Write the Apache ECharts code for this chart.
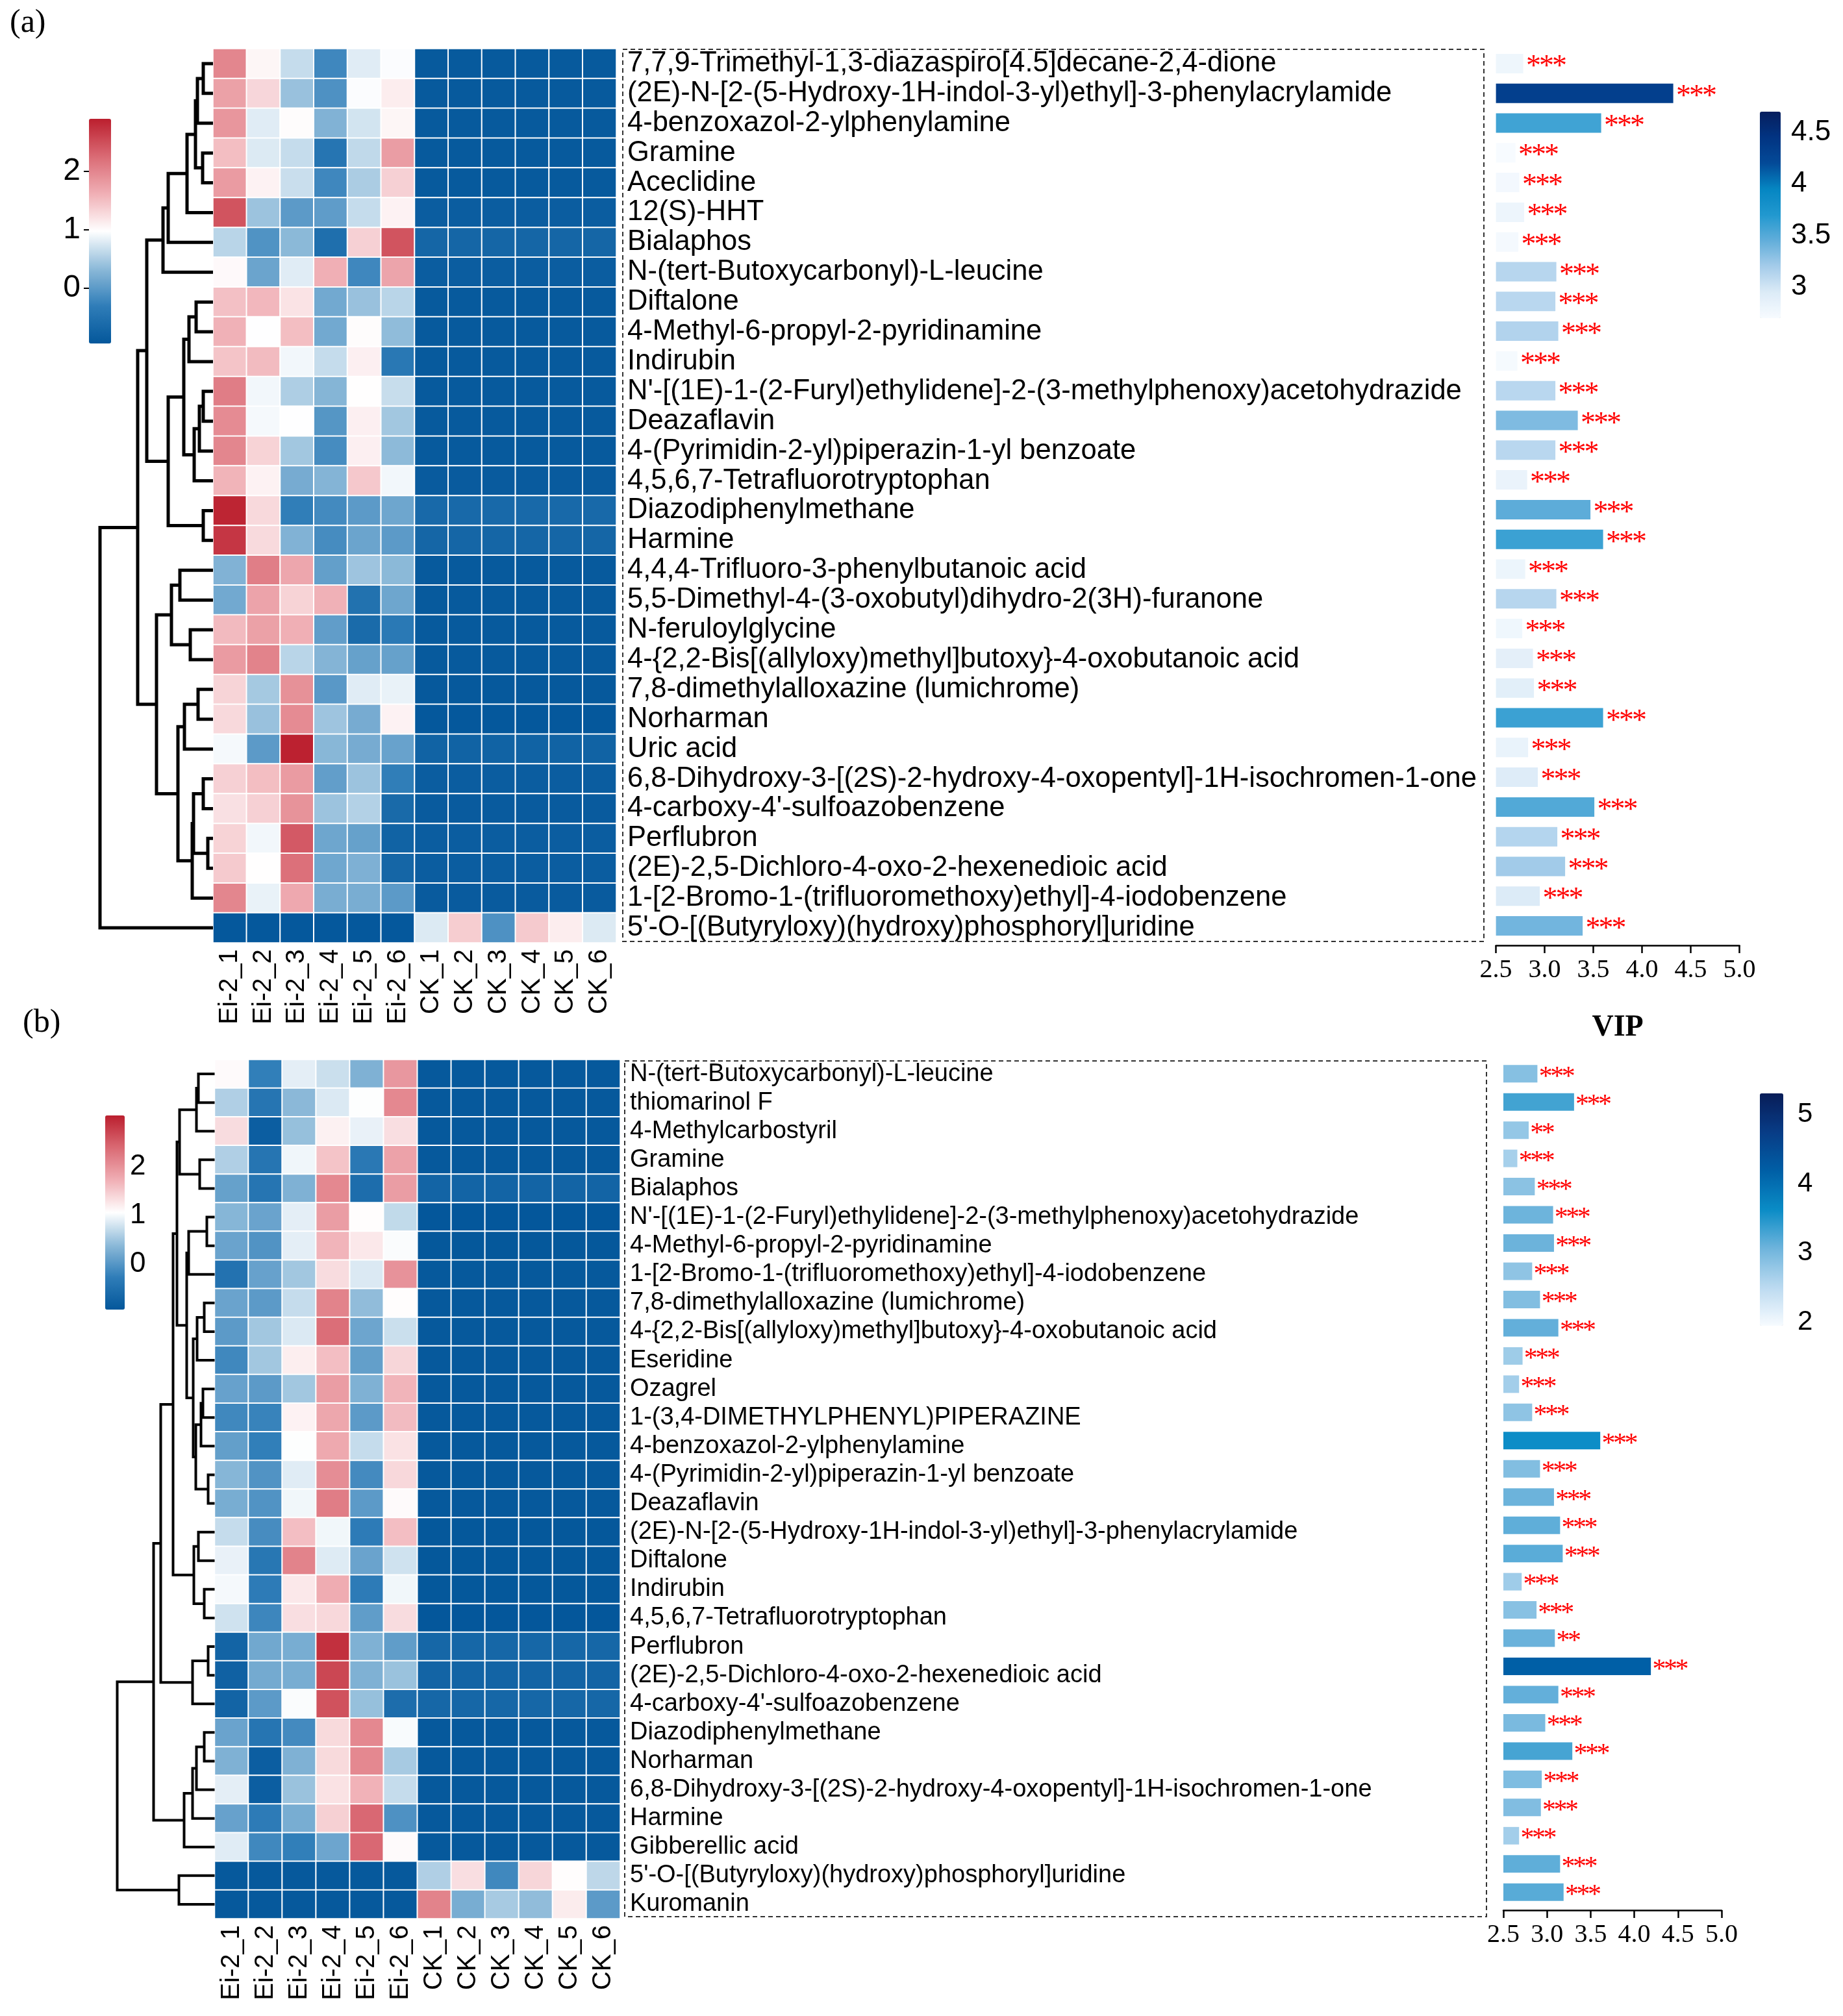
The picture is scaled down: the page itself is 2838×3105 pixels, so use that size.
<!DOCTYPE html>
<html><head><meta charset="utf-8">
<script src="https://cdn.jsdelivr.net/npm/echarts@6/dist/echarts.min.js"></script>
<style>html,body{margin:0;padding:0;background:#fff}#c{width:2838px;height:3105px}</style>
</head><body><div id="c"></div>
<script>
// ---------------- DATA ----------------
const samples = ['Ei-2_1','Ei-2_2','Ei-2_3','Ei-2_4','Ei-2_5','Ei-2_6','CK_1','CK_2','CK_3','CK_4','CK_5','CK_6'];

const metabolitesA = [
 '7,7,9-Trimethyl-1,3-diazaspiro[4.5]decane-2,4-dione',
 '(2E)-N-[2-(5-Hydroxy-1H-indol-3-yl)ethyl]-3-phenylacrylamide',
 '4-benzoxazol-2-ylphenylamine',
 'Gramine',
 'Aceclidine',
 '12(S)-HHT',
 'Bialaphos',
 'N-(tert-Butoxycarbonyl)-L-leucine',
 'Diftalone',
 '4-Methyl-6-propyl-2-pyridinamine',
 'Indirubin',
 "N'-[(1E)-1-(2-Furyl)ethylidene]-2-(3-methylphenoxy)acetohydrazide",
 'Deazaflavin',
 '4-(Pyrimidin-2-yl)piperazin-1-yl benzoate',
 '4,5,6,7-Tetrafluorotryptophan',
 'Diazodiphenylmethane',
 'Harmine',
 '4,4,4-Trifluoro-3-phenylbutanoic acid',
 '5,5-Dimethyl-4-(3-oxobutyl)dihydro-2(3H)-furanone',
 'N-feruloylglycine',
 '4-{2,2-Bis[(allyloxy)methyl]butoxy}-4-oxobutanoic acid',
 '7,8-dimethylalloxazine (lumichrome)',
 'Norharman',
 'Uric acid',
 '6,8-Dihydroxy-3-[(2S)-2-hydroxy-4-oxopentyl]-1H-isochromen-1-one',
 "4-carboxy-4'-sulfoazobenzene",
 'Perflubron',
 '(2E)-2,5-Dichloro-4-oxo-2-hexenedioic acid',
 '1-[2-Bromo-1-(trifluoromethoxy)ethyl]-4-iodobenzene',
 "5'-O-[(Butyryloxy)(hydroxy)phosphoryl]uridine"
];

const heatA = [
 [2.0,1.05,0.65,-0.2,0.8,0.95,-0.9,-0.9,-0.9,-0.9,-0.9,-0.9],
 [1.75,1.3,0.4,-0.1,0.95,1.12,-0.9,-0.9,-0.9,-0.9,-0.9,-0.9],
 [1.85,0.8,1.0,0.25,0.72,1.05,-0.9,-0.9,-0.9,-0.9,-0.9,-0.9],
 [1.5,0.78,0.65,-0.45,0.62,1.78,-0.9,-0.9,-0.9,-0.9,-0.9,-0.9],
 [1.8,1.08,0.67,-0.2,0.5,1.35,-0.9,-0.9,-0.9,-0.9,-0.9,-0.9],
 [2.45,0.42,0.0,0.02,0.65,1.08,-0.85,-0.85,-0.85,-0.85,-0.85,-0.85],
 [0.58,-0.08,0.32,-0.55,1.35,2.45,-0.7,-0.7,-0.7,-0.7,-0.7,-0.7],
 [1.02,0.1,0.8,1.62,-0.2,1.72,-0.85,-0.85,-0.85,-0.85,-0.85,-0.85],
 [1.48,1.55,1.2,0.15,0.4,0.58,-0.9,-0.9,-0.9,-0.9,-0.9,-0.9],
 [1.6,0.97,1.5,0.15,1.0,0.35,-0.9,-0.9,-0.9,-0.9,-0.9,-0.9],
 [1.45,1.52,0.9,0.65,1.1,-0.4,-0.9,-0.9,-0.9,-0.9,-0.9,-0.9],
 [2.08,0.9,0.52,0.28,0.98,0.66,-0.9,-0.9,-0.9,-0.9,-0.9,-0.9],
 [1.95,0.92,0.97,-0.05,1.1,0.45,-0.9,-0.9,-0.9,-0.9,-0.9,-0.9],
 [2.0,1.33,0.45,-0.15,1.1,0.33,-0.9,-0.9,-0.9,-0.9,-0.9,-0.9],
 [1.58,1.08,0.18,0.27,1.42,0.9,-0.88,-0.88,-0.88,-0.88,-0.88,-0.88],
 [2.85,1.28,-0.3,-0.17,0.0,0.12,-0.65,-0.65,-0.65,-0.65,-0.65,-0.65],
 [2.7,1.27,0.25,-0.15,0.1,0.0,-0.7,-0.7,-0.7,-0.7,-0.7,-0.7],
 [0.25,2.07,1.7,0.05,0.43,0.32,-0.9,-0.9,-0.9,-0.9,-0.9,-0.9],
 [0.15,1.73,1.33,1.6,-0.5,0.12,-0.9,-0.9,-0.9,-0.9,-0.9,-0.9],
 [1.53,1.75,1.62,0.03,-0.62,-0.38,-0.9,-0.9,-0.9,-0.9,-0.9,-0.9],
 [1.8,2.03,0.58,0.27,0.07,0.07,-0.9,-0.9,-0.9,-0.9,-0.9,-0.9],
 [1.32,0.47,1.9,-0.02,0.8,0.85,-0.92,-0.92,-0.92,-0.92,-0.92,-0.92],
 [1.28,0.4,1.95,0.43,0.18,1.08,-0.93,-0.93,-0.93,-0.93,-0.93,-0.93],
 [0.92,0.0,2.88,0.3,0.18,0.08,-0.75,-0.75,-0.75,-0.75,-0.75,-0.75],
 [1.35,1.5,1.8,0.04,0.42,-0.3,-0.85,-0.85,-0.85,-0.85,-0.85,-0.85],
 [1.22,1.35,1.88,0.42,0.55,-0.63,-0.88,-0.88,-0.88,-0.88,-0.88,-0.88],
 [1.33,0.9,2.4,0.12,0.07,-0.75,-0.85,-0.85,-0.85,-0.85,-0.85,-0.85],
 [1.4,0.98,2.2,0.13,0.23,-0.7,-0.85,-0.85,-0.85,-0.85,-0.85,-0.85],
 [2.0,0.85,1.68,0.2,0.2,0.0,-0.88,-0.88,-0.88,-0.88,-0.88,-0.88],
 [-0.93,-0.93,-0.93,-0.93,-0.93,-0.93,0.78,1.38,-0.1,1.4,1.12,0.78]
];

const vipA = [2.78,4.32,3.58,2.70,2.74,2.79,2.73,3.12,3.11,3.14,2.72,3.11,3.34,3.11,2.82,3.47,3.60,2.80,3.12,2.77,2.88,2.89,3.60,2.83,2.93,3.51,3.13,3.21,2.95,3.39];
const starsA = ['***','***','***','***','***','***','***','***','***','***','***','***','***','***','***','***','***','***','***','***','***','***','***','***','***','***','***','***','***','***'];

// hclust-style merges: negative = leaf row (1-based), positive = earlier merge (1-based); [a, b, height]
const dendroA = [
 [-1,-2,15],[1,-3,24],[-4,-5,16],[2,3,27],[4,-6,40],[5,-7,69],[6,-8,77],
 [-9,-10,26],[8,-11,37],[-12,-13,15],[10,-14,21],[11,-15,29],[9,12,45],
 [-16,-17,15],[13,14,69],[7,15,102],
 [-18,-19,51],[-20,-21,35],[17,18,64],[-22,-23,23],[20,-24,44],
 [-25,-26,15],[-27,-28,8],[22,23,30],[24,-29,32],[21,25,54],[19,26,87],
 [16,27,116],[28,-30,174]
];

const metabolitesB = [
 'N-(tert-Butoxycarbonyl)-L-leucine',
 'thiomarinol F',
 '4-Methylcarbostyril',
 'Gramine',
 'Bialaphos',
 "N'-[(1E)-1-(2-Furyl)ethylidene]-2-(3-methylphenoxy)acetohydrazide",
 '4-Methyl-6-propyl-2-pyridinamine',
 '1-[2-Bromo-1-(trifluoromethoxy)ethyl]-4-iodobenzene',
 '7,8-dimethylalloxazine (lumichrome)',
 '4-{2,2-Bis[(allyloxy)methyl]butoxy}-4-oxobutanoic acid',
 'Eseridine',
 'Ozagrel',
 '1-(3,4-DIMETHYLPHENYL)PIPERAZINE',
 '4-benzoxazol-2-ylphenylamine',
 '4-(Pyrimidin-2-yl)piperazin-1-yl benzoate',
 'Deazaflavin',
 '(2E)-N-[2-(5-Hydroxy-1H-indol-3-yl)ethyl]-3-phenylacrylamide',
 'Diftalone',
 'Indirubin',
 '4,5,6,7-Tetrafluorotryptophan',
 'Perflubron',
 '(2E)-2,5-Dichloro-4-oxo-2-hexenedioic acid',
 "4-carboxy-4'-sulfoazobenzene",
 'Diazodiphenylmethane',
 'Norharman',
 '6,8-Dihydroxy-3-[(2S)-2-hydroxy-4-oxopentyl]-1H-isochromen-1-one',
 'Harmine',
 'Gibberellic acid',
 "5'-O-[(Butyryloxy)(hydroxy)phosphoryl]uridine",
 'Kuromanin'
];

const heatB = [
 [1.1,-0.25,0.9,0.75,0.3,1.95,-0.9,-0.9,-0.9,-0.9,-0.9,-0.9],
 [0.6,-0.4,0.38,0.85,1.05,2.1,-0.9,-0.9,-0.9,-0.9,-0.9,-0.9],
 [1.35,-0.8,0.45,1.18,0.93,1.33,-0.9,-0.9,-0.9,-0.9,-0.9,-0.9],
 [0.6,-0.4,0.97,1.55,-0.35,1.85,-0.9,-0.9,-0.9,-0.9,-0.9,-0.9],
 [0.12,-0.4,0.3,2.1,-0.55,1.9,-0.7,-0.7,-0.7,-0.7,-0.7,-0.7],
 [0.35,0.15,0.9,1.9,1.08,0.7,-0.93,-0.93,-0.93,-0.93,-0.93,-0.93],
 [0.15,-0.03,0.9,1.68,1.25,1.03,-0.92,-0.92,-0.92,-0.92,-0.92,-0.92],
 [-0.45,0.13,0.52,1.35,0.85,2.0,-0.9,-0.9,-0.9,-0.9,-0.9,-0.9],
 [0.15,0.05,0.72,2.15,0.42,1.08,-0.9,-0.9,-0.9,-0.9,-0.9,-0.9],
 [0.05,0.52,0.85,2.35,0.17,0.75,-0.9,-0.9,-0.9,-0.9,-0.9,-0.9],
 [-0.15,0.52,1.2,1.6,0.1,1.4,-0.9,-0.9,-0.9,-0.9,-0.9,-0.9],
 [0.13,0.05,0.52,1.9,0.3,1.68,-0.9,-0.9,-0.9,-0.9,-0.9,-0.9],
 [-0.15,-0.2,1.17,1.8,0.05,1.62,-0.9,-0.9,-0.9,-0.9,-0.9,-0.9],
 [0.1,-0.25,1.05,1.78,0.72,1.3,-0.9,-0.9,-0.9,-0.9,-0.9,-0.9],
 [0.35,-0.03,0.88,2.05,-0.12,1.38,-0.9,-0.9,-0.9,-0.9,-0.9,-0.9],
 [0.25,-0.03,0.98,2.2,0.05,1.1,-0.9,-0.9,-0.9,-0.9,-0.9,-0.9],
 [0.72,-0.1,1.6,0.98,-0.3,1.6,-0.92,-0.92,-0.92,-0.92,-0.92,-0.92],
 [0.93,-0.38,2.15,0.87,0.15,0.78,-0.92,-0.92,-0.92,-0.92,-0.92,-0.92],
 [1.0,-0.3,1.25,1.75,-0.3,0.98,-0.92,-0.92,-0.92,-0.92,-0.92,-0.92],
 [0.78,-0.17,1.33,1.38,0.08,1.35,-0.93,-0.93,-0.93,-0.93,-0.93,-0.93],
 [-0.7,0.2,0.25,2.9,0.3,0.08,-0.65,-0.65,-0.65,-0.65,-0.65,-0.65],
 [-0.75,0.22,0.25,2.7,0.3,0.47,-0.7,-0.7,-0.7,-0.7,-0.7,-0.7],
 [-0.7,0.05,1.03,2.6,0.45,-0.55,-0.65,-0.65,-0.65,-0.65,-0.65,-0.65],
 [0.15,-0.4,-0.12,1.37,2.1,1.02,-0.9,-0.9,-0.9,-0.9,-0.9,-0.9],
 [0.3,-0.8,0.3,1.37,2.1,0.55,-0.9,-0.9,-0.9,-0.9,-0.9,-0.9],
 [0.9,-0.8,0.47,1.3,1.7,0.72,-0.9,-0.9,-0.9,-0.9,-0.9,-0.9],
 [0.13,-0.3,0.25,1.45,2.4,-0.05,-0.9,-0.9,-0.9,-0.9,-0.9,-0.9],
 [0.88,-0.15,-0.25,0.17,2.4,1.1,-0.9,-0.9,-0.9,-0.9,-0.9,-0.9],
 [-0.9,-0.9,-0.9,-0.9,-0.9,-0.9,0.6,1.33,-0.15,1.4,1.08,0.68],
 [-0.9,-0.9,-0.9,-0.9,-0.9,-0.9,2.15,0.25,0.55,0.42,1.22,0.05]
];

const vipB = [2.89,3.31,2.79,2.66,2.86,3.07,3.08,2.83,2.92,3.13,2.72,2.68,2.83,3.61,2.92,3.08,3.15,3.18,2.71,2.88,3.09,4.19,3.13,2.98,3.29,2.94,2.93,2.68,3.15,3.19];
const starsB = ['***','***','**','***','***','***','***','***','***','***','***','***','***','***','***','***','***','***','***','***','**','***','***','***','***','***','***','***','***','***'];

const dendroB = [
 [-1,-2,25],[1,-3,28],[-4,-5,23],[2,3,54],
 [-6,-7,12],[5,-8,40],
 [-9,-10,16],[7,-11,27],[-12,-13,18],[9,-14,21],[-15,-16,10],[10,11,29],[8,12,33],
 [6,13,43],[4,14,58],
 [-17,-18,25],[-19,-20,16],[16,17,32],[15,18,64],
 [-21,-22,10],[20,-23,34],[19,21,83],
 [-24,-25,16],[23,-26,28],[24,-27,34],[25,-28,47],[22,26,94],
 [-29,-30,55],[27,28,150]
];

const heatTicks = [0, 1, 2];
const vipTicksA = [3, 3.5, 4, 4.5];
const vipTicksB = [2, 3, 4, 5];

// ---------------- HELPERS ----------------
function heatData(m) {
  const out = [];
  m.forEach((row, r) => row.forEach((v, c) => out.push([c, r, v])));
  return out;
}
function dendroSegments(merges) {
  const nodeY = [], nodeH = [], segs = [];
  const pos = ref => ref < 0 ? [-ref - 1, 0] : [nodeY[ref - 1], nodeH[ref - 1]];
  merges.forEach(([a, b, h]) => {
    const [ya, ha] = pos(a), [yb, hb] = pos(b);
    nodeY.push((ya + yb) / 2); nodeH.push(h);
    segs.push([ha, ya, h, yb, hb]);
  });
  return segs;
}
function renderDendro(lw) {
  return function (params, api) {
    const pts = [
      api.coord([api.value(0), api.value(1)]),
      api.coord([api.value(2), api.value(1)]),
      api.coord([api.value(2), api.value(3)]),
      api.coord([api.value(4), api.value(3)])
    ];
    return { type: 'polyline', shape: { points: pts }, style: { stroke: '#000', lineWidth: lw, fill: null, lineJoin: 'miter' } };
  };
}
function renderVip(stars, fontSize, thick, dx, dy, step) {
  return function (params, api) {
    const v = api.value(0), y = api.value(1);
    const s = api.coord([2.5, y]), e = api.coord([v, y]);
    const children = [
      { type: 'rect', shape: { x: s[0], y: s[1] - thick / 2, width: e[0] - s[0], height: thick }, style: { fill: api.visual('color') } }
    ];
    const str = stars[params.dataIndex];
    for (let k = 0; k < str.length; k++) {
      children.push({ type: 'text', x: e[0] + dx + step / 2 + k * step, y: e[1] + dy,
        style: { text: str[k], fill: '#ff0000', font: fontSize + 'px "Liberation Serif"', verticalAlign: 'middle', align: 'center' } });
    }
    return { type: 'group', children: children };
  };
}

const HEAT_COLORS = ['#04579B','#2F7DB8','#8DBAD9','#FFFFFF','#F0AFB5','#DA6A74','#BB1F2E'];
const VIPA_COLORS = ['#F7FBFF','#DCEBF7','#A5CCEA','#62AEDA','#2198CF','#0586C2','#034A98','#023482','#061E5E'];
const VIPB_COLORS = ['#F7FBFF','#BBDAF0','#6EB4DC','#0A8CC6','#005FA6','#083C86','#081D58'];

const SANS = '"Liberation Sans", Arial, sans-serif';
const SERIF = '"Liberation Serif", "Times New Roman", serif';

// layout
const L = {
  heatA: { left: 328, top: 75, width: 621, height: 1377 },
  dendA: { left: 128, top: 75, width: 200, height: 1377 },
  vipA: { left: 2303.6, top: 75, width: 375, height: 1374 },
  cbHA: { left: 137, top: 183, width: 34, height: 346 },
  cbVA: { left: 2710, top: 172, width: 32, height: 318 },
  heatB: { left: 330.5, top: 1632, width: 624.5, height: 1323 },
  dendB: { left: 130.5, top: 1632, width: 200, height: 1323 },
  vipB: { left: 2315, top: 1632, width: 336, height: 1304 },
  cbHB: { left: 162, top: 1718, width: 30, height: 299 },
  cbVB: { left: 2710, top: 1684, width: 36, height: 358 }
};
const gridOrder = ['heatA','dendA','vipA','cbHA','cbVA','heatB','dendB','vipB','cbHB','cbVB'];
const grids = gridOrder.map(k => Object.assign({ containLabel: false }, L[k]));

const hidden = (gi, extra) => Object.assign({ gridIndex: gi, show: false, type: 'value' }, extra || {});
const rowAxis = gi => hidden(gi, { min: -0.5, max: 29.5, inverse: true });

function heatX(gi) {
  return { gridIndex: gi, type: 'category', data: samples, position: 'bottom',
    axisLine: { show: false }, axisTick: { show: false }, splitLine: { show: false },
    axisLabel: { rotate: 90, fontSize: 40, fontFamily: SANS, color: '#000', margin: 10, interval: 0 } };
}
function heatY(gi, names, fs, margin) {
  return { gridIndex: gi, type: 'category', data: names, inverse: true, position: 'right',
    axisLine: { show: false }, axisTick: { show: false }, splitLine: { show: false },
    axisLabel: { fontSize: fs, fontFamily: SANS, color: '#000', margin: margin, interval: 0, align: 'left' } };
}
function vipX(gi, nameShow, offset) {
  return { gridIndex: gi, type: 'value', min: 2.5, max: 5, interval: 0.5, position: 'bottom', offset: offset,
    name: nameShow ? 'VIP' : '', nameLocation: 'middle', nameGap: 104,
    nameTextStyle: { fontFamily: SERIF, fontWeight: 'bold', fontSize: 46, color: '#000' },
    axisLine: { show: true, onZero: false, lineStyle: { color: '#000', width: 2.5 } },
    axisTick: { show: true, length: 12, inside: false, lineStyle: { color: '#000', width: 2.5 } },
    splitLine: { show: false },
    axisLabel: { fontFamily: SERIF, fontSize: 40, color: '#000', margin: 18, formatter: v => v.toFixed(1) } };
}
function cbAxis(gi, min, max, ticks, pos, fs, margin, tlen) {
  return { gridIndex: gi, type: 'value', min: min, max: max, position: pos,
    axisLine: { show: false }, splitLine: { show: false },
    axisTick: { show: true, length: tlen, customValues: ticks, lineStyle: { color: '#000', width: 2 } },
    axisLabel: { show: true, customValues: ticks, fontSize: fs, fontFamily: SANS, color: '#000', margin: margin } };
}

const option = {
  animation: false,
  backgroundColor: '#fff',
  title: [
    { text: '(a)', left: 10, top: 6, textStyle: { fontFamily: SERIF, fontWeight: 'normal', fontSize: 50, color: '#000' } },
    { text: '(b)', left: 30, top: 1546, textStyle: { fontFamily: SERIF, fontWeight: 'normal', fontSize: 50, color: '#000' } }
  ],
  grid: grids,
  xAxis: [
    heatX(0),
    hidden(1, { min: 0, max: 200, inverse: true }),
    vipX(2, true, 7),
    hidden(3, { min: 0, max: 1 }),
    hidden(4, { min: 0, max: 1 }),
    heatX(5),
    hidden(6, { min: 0, max: 200, inverse: true }),
    vipX(7, false, 6),
    hidden(8, { min: 0, max: 1 }),
    hidden(9, { min: 0, max: 1 })
  ],
  yAxis: [
    heatY(0, metabolitesA, 43.5, 17),
    rowAxis(1),
    rowAxis(2),
    cbAxis(3, -0.95, 2.9, heatTicks, 'left', 48, 13, 8),
    cbAxis(4, 2.7, 4.7, vipTicksA, 'right', 44, 16, 9),
    heatY(5, metabolitesB, 38, 15),
    rowAxis(6),
    rowAxis(7),
    cbAxis(8, -0.93, 3.05, heatTicks, 'right', 44, 8, 6),
    cbAxis(9, 1.95, 5.3, vipTicksB, 'right', 42, 22, 9)
  ],
  visualMap: [
    { type: 'continuous', seriesIndex: 0, dimension: 2, min: -0.95, max: 2.9, calculable: false,
      left: L.cbHA.left, top: L.cbHA.top, itemWidth: L.cbHA.width, itemHeight: L.cbHA.height, padding: 0, text: null,
      inRange: { color: HEAT_COLORS } },
    { type: 'continuous', seriesIndex: 2, dimension: 0, min: 2.7, max: 4.7, calculable: false,
      left: L.cbVA.left, top: L.cbVA.top, itemWidth: L.cbVA.width, itemHeight: L.cbVA.height, padding: 0, text: null,
      inRange: { color: VIPA_COLORS } },
    { type: 'continuous', seriesIndex: 3, dimension: 2, min: -0.93, max: 3.05, calculable: false,
      left: L.cbHB.left, top: L.cbHB.top, itemWidth: L.cbHB.width, itemHeight: L.cbHB.height, padding: 0, text: null,
      inRange: { color: HEAT_COLORS } },
    { type: 'continuous', seriesIndex: 5, dimension: 0, min: 1.95, max: 5.3, calculable: false,
      left: L.cbVB.left, top: L.cbVB.top, itemWidth: L.cbVB.width, itemHeight: L.cbVB.height, padding: 0, text: null,
      inRange: { color: VIPB_COLORS } }
  ],
  series: [
    { type: 'heatmap', xAxisIndex: 0, yAxisIndex: 0, data: heatData(heatA), silent: true,
      itemStyle: { borderColor: '#fff', borderWidth: 2 }, emphasis: { disabled: true } },
    { type: 'custom', xAxisIndex: 1, yAxisIndex: 1, data: dendroSegments(dendroA), renderItem: renderDendro(5), silent: true, clip: false },
    { type: 'custom', xAxisIndex: 2, yAxisIndex: 2, data: vipA.map((v, i) => [v, i]), encode: { x: 0, y: 1 },
      renderItem: renderVip(starsA, 46, 30, 6, 6, 20), silent: true, clip: false },
    { type: 'heatmap', xAxisIndex: 5, yAxisIndex: 5, data: heatData(heatB), silent: true,
      itemStyle: { borderColor: '#fff', borderWidth: 2 }, emphasis: { disabled: true } },
    { type: 'custom', xAxisIndex: 6, yAxisIndex: 6, data: dendroSegments(dendroB), renderItem: renderDendro(4), silent: true, clip: false },
    { type: 'custom', xAxisIndex: 7, yAxisIndex: 7, data: vipB.map((v, i) => [v, i]), encode: { x: 0, y: 1 },
      renderItem: renderVip(starsB, 42, 27, 4, 6, 17.5), silent: true, clip: false }
  ],
  graphic: [
    { type: 'rect', shape: { x: 959, y: 76, width: 1326, height: 1374 }, style: { fill: null, stroke: '#333', lineWidth: 2, lineDash: [7, 5] }, silent: true },
    { type: 'rect', shape: { x: 962, y: 1634, width: 1327, height: 1318 }, style: { fill: null, stroke: '#333', lineWidth: 2, lineDash: [7, 5] }, silent: true }
  ]
};

const chart = echarts.init(document.getElementById('c'), null, { renderer: 'canvas', width: 2838, height: 3105 });
chart.setOption(option);
</script>
</body></html>
